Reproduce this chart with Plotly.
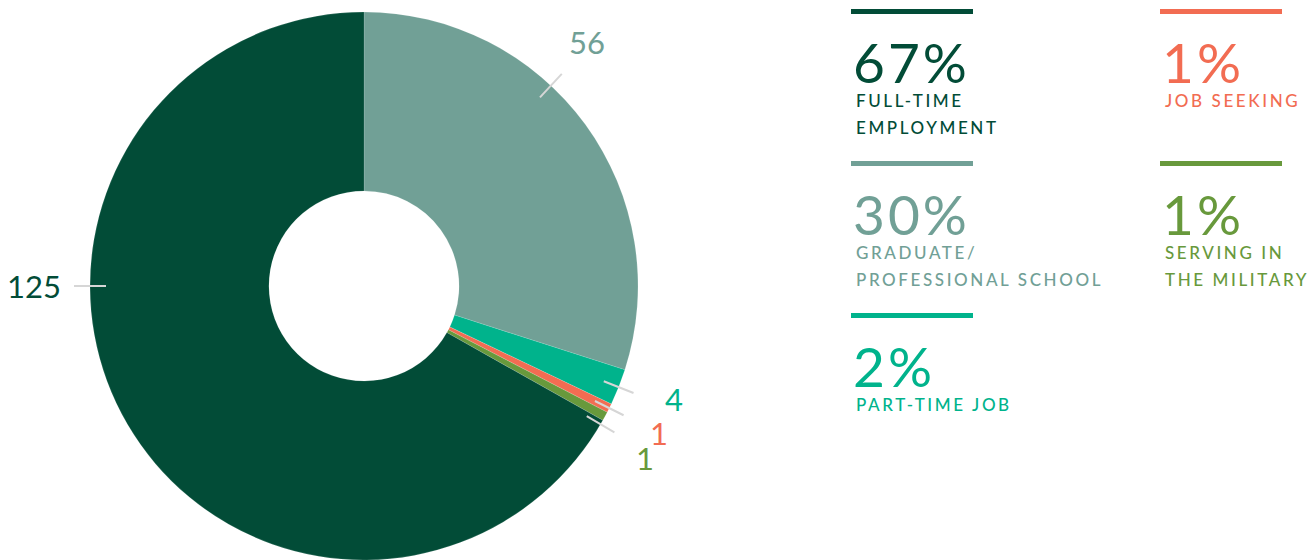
import math
import plotly.graph_objects as go

# ---------------- data ----------------
slice_labels = ["Graduate/Professional School", "Part-Time Job", "Job Seeking",
                "Serving in the Military", "Full-Time Employment"]
slice_values = [56, 4, 1, 1, 125]
slice_colors = ["#71a096", "#00b38c", "#f26c52", "#68993c", "#024c37"]

legend_lines = {
    "Full-Time Employment": ["FULL-TIME", "EMPLOYMENT"],
    "Graduate/Professional School": ["GRADUATE/", "PROFESSIONAL SCHOOL"],
    "Part-Time Job": ["PART-TIME JOB"],
    "Job Seeking": ["JOB SEEKING"],
    "Serving in the Military": ["SERVING IN", "THE MILITARY"],
}
legend_order = [["Full-Time Employment", "Graduate/Professional School", "Part-Time Job"],
                ["Job Seeking", "Serving in the Military"]]

# ---------------- layout constants ----------------
W, H = 1316, 560
CX, CY, R = 364, 286, 274
FONT = "Lato"
line_angle_override = {"Graduate/Professional School": 43, "Serving in the Military": 120.3,
                       "Full-Time Employment": 270}
text_angle_override = {"Graduate/Professional School": 42.4, "Part-Time Job": 110,
                       "Serving in the Military": 121.5, "Full-Time Employment": 270}
col_x = [851, 1160]
row_y = [11.5, 163.5, 315.5]
BAR_W = 122


def px(x):
    return x / W


def py(y):
    return 1 - y / H


color_of = dict(zip(slice_labels, slice_colors))
value_of = dict(zip(slice_labels, slice_values))
total = sum(slice_values)

fig = go.Figure(go.Pie(
    labels=slice_labels, values=slice_values, sort=False, direction="clockwise",
    rotation=0, hole=0.347, textinfo="none", hoverinfo="label+value",
    marker=dict(colors=slice_colors, line=dict(color="rgba(255,255,255,0.35)", width=0.4)),
    domain=dict(x=[px(CX - R), px(CX + R)], y=[py(CY + R), py(CY - R)]),
    showlegend=False,
))

shapes = []
annotations = []


def polar(r, a):
    rad = math.radians(a)
    return CX + r * math.sin(rad), CY - r * math.cos(rad)


cum = 0
for lab, val, col in zip(slice_labels, slice_values, slice_colors):
    mid = (cum + val / 2) / total * 360
    cum += val
    la = line_angle_override.get(lab, mid)
    ta = text_angle_override.get(lab, mid)
    x0, y0 = polar(258, la)
    x1, y1 = polar(290, la)
    shapes.append(dict(type="line", xref="paper", yref="paper", x0=px(x0), y0=py(y0),
                       x1=px(x1), y1=py(y1), line=dict(color="#d6d6d6", width=2)))
    tx, ty = polar(330, ta)
    annotations.append(dict(text=str(val), x=px(tx), y=py(ty), xref="paper", yref="paper",
                            xanchor="center", yanchor="middle", showarrow=False,
                            font=dict(family=FONT, size=31, color=col)))

# ---------------- custom legend ----------------
for ci, col_items in enumerate(legend_order):
    for ri, lab in enumerate(col_items):
        col = color_of[lab]
        bx, by = col_x[ci], row_y[ri]
        shapes.append(dict(type="rect", xref="paper", yref="paper", x0=px(bx), x1=px(bx + BAR_W),
                           y0=py(by + 2.5), y1=py(by - 2.5), fillcolor=col, line=dict(width=0)))
        pct = round(value_of[lab] / total * 100)
        annotations.append(dict(text=f"<span style='letter-spacing:3px'>{pct}%</span>",
                                x=px(bx), y=py(by + 50.5), xref="paper", height=46,
                                yref="paper", xanchor="left", yanchor="middle", showarrow=False,
                                font=dict(family=FONT, size=55, color=col)))
        for li, txt in enumerate(legend_lines[lab]):
            annotations.append(dict(
                text=f"<span style='letter-spacing:2.6px'>{txt}</span>",
                x=px(bx + 3), y=py(by + 89 + 27 * li), xref="paper", yref="paper",
                xanchor="left", yanchor="middle", showarrow=False,
                font=dict(family=FONT, size=17, color=col, weight=500)))

fig.update_layout(
    width=W, height=H, margin=dict(l=0, r=0, t=0, b=0),
    paper_bgcolor="white", plot_bgcolor="white",
    shapes=shapes, annotations=annotations,
    font=dict(family=FONT),
)

fig.write_html("out.html", config={"displayModeBar": False},
               post_script="document.body.style.margin='0';")
